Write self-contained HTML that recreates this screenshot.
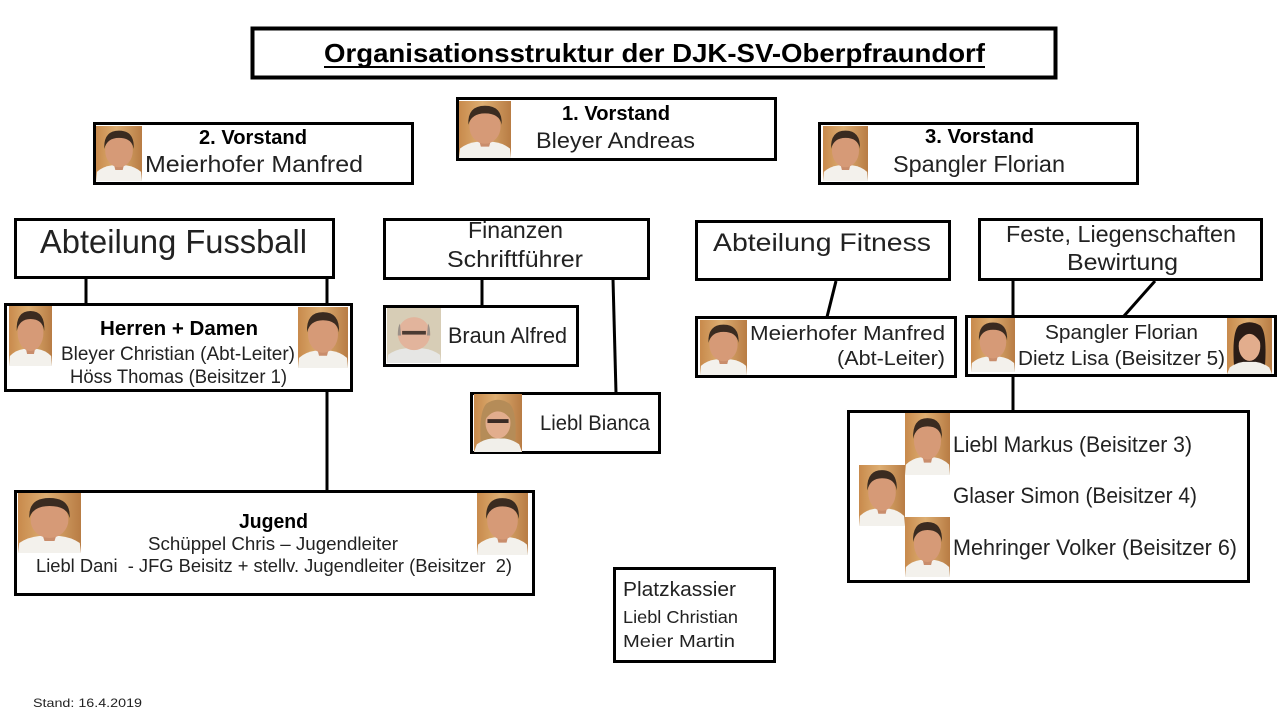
<!DOCTYPE html>
<html>
<head>
<meta charset="utf-8">
<style>
html,body{margin:0;padding:0;background:#fff;}
body{width:1280px;height:720px;overflow:hidden;}
svg{display:block;}
text{font-family:"Liberation Sans",sans-serif;fill:#222;white-space:pre;}
.b{font-weight:bold;fill:#000;}
</style>
</head>
<body>
<svg width="1280" height="720" viewBox="0 0 1280 720" xmlns="http://www.w3.org/2000/svg" xmlns:xlink="http://www.w3.org/1999/xlink">
<defs>
  <linearGradient id="wood" x1="0" y1="0" x2="1" y2="0">
    <stop offset="0" stop-color="#c88a4c"/>
    <stop offset="0.45" stop-color="#ddae72"/>
    <stop offset="1" stop-color="#b87c44"/>
  </linearGradient>
  <symbol id="pm" viewBox="0 0 50 60" preserveAspectRatio="none">
    <rect width="50" height="60" fill="url(#wood)"/>
    <path d="M0 60 L1 50 Q8 44 17 43 L33 43 Q42 44 49 50 L50 60Z" fill="#f3f1ec"/>
    <path d="M19 40 L31 40 L29 48 L21 48Z" fill="#c98d6c"/>
    <ellipse cx="25" cy="27" rx="15" ry="18" fill="#d69a77"/>
    <path d="M9 25 Q8 5 25 5 Q42 5 41 25 Q39 13 25 13 Q12 13 9 25Z" fill="#3a2b20"/>
  </symbol>
  <symbol id="pb" viewBox="0 0 50 60" preserveAspectRatio="none">
    <rect width="50" height="60" fill="#d7cdb6"/>
    <path d="M0 60 L1 51 Q8 45 17 44 L33 44 Q42 45 49 51 L50 60Z" fill="#e6e6e4"/>
    <ellipse cx="25" cy="28" rx="15" ry="18" fill="#e2b49c"/>
    <path d="M10 30 Q10 20 12 17 L13 30Z M40 30 Q40 20 38 17 L37 30Z" fill="#9a9088"/>
    <rect x="14" y="25" width="22" height="4" fill="#4a3a32"/>
  </symbol>
  <symbol id="pf" viewBox="0 0 50 60" preserveAspectRatio="none">
    <rect width="50" height="60" fill="url(#wood)"/>
    <path d="M7 50 Q5 18 13 10 Q25 2 37 10 Q45 18 43 50Z" fill="#b58c58"/>
    <path d="M0 60 L3 52 Q10 47 18 46 L32 46 Q40 47 47 52 L50 60Z" fill="#f1efea"/>
    <ellipse cx="25" cy="30" rx="13" ry="16" fill="#e2ad8d"/>
    <path d="M12 26 Q13 13 25 13 Q37 13 38 26 Q32 18 25 18 Q18 18 12 26Z" fill="#b58c58"/>
    <rect x="14" y="26" width="22" height="4" fill="#3a2a24"/>
  </symbol>
  <symbol id="pd" viewBox="0 0 50 60" preserveAspectRatio="none">
    <rect width="50" height="60" fill="url(#wood)"/>
    <path d="M8 54 Q5 16 13 8 Q25 1 37 8 Q45 16 42 54Z" fill="#2a1c16"/>
    <path d="M0 60 L3 53 Q10 48 18 47 L32 47 Q40 48 47 53 L50 60Z" fill="#f1efea"/>
    <ellipse cx="25" cy="30" rx="12" ry="16" fill="#e2ad8d"/>
    <path d="M13 26 Q14 12 25 12 Q36 12 37 26 Q31 17 25 17 Q19 17 13 26Z" fill="#2a1c16"/>
  </symbol>
</defs>

<!-- connectors -->
<g stroke="#000" stroke-width="3" fill="none">
  <line x1="86" y1="279" x2="86" y2="304"/>
  <line x1="327" y1="279" x2="327" y2="304"/>
  <line x1="327" y1="391" x2="327" y2="491"/>
  <line x1="482" y1="279" x2="482" y2="306"/>
  <line x1="613" y1="279" x2="616" y2="393"/>
  <line x1="836" y1="281" x2="827" y2="317"/>
  <line x1="1013" y1="281" x2="1013" y2="316"/>
  <line x1="1155" y1="281" x2="1124" y2="316"/>
  <line x1="1013" y1="377" x2="1013" y2="411"/>
</g>

<!-- boxes -->
<g fill="#fff" stroke="#000" stroke-width="3">
  <rect x="252.5" y="28.5" width="803" height="49" stroke-width="4"/>
  <rect x="457.5" y="98.5" width="318" height="61"/>
  <rect x="94.5" y="123.5" width="318" height="60"/>
  <rect x="819.5" y="123.5" width="318" height="60"/>
  <rect x="15.5" y="219.5" width="318" height="58"/>
  <rect x="5.5" y="304.5" width="346" height="86"/>
  <rect x="15.5" y="491.5" width="518" height="103"/>
  <rect x="384.5" y="219.5" width="264" height="59"/>
  <rect x="384.5" y="306.5" width="193" height="59"/>
  <rect x="471.5" y="393.5" width="188" height="59"/>
  <rect x="696.5" y="221.5" width="253" height="58"/>
  <rect x="696.5" y="317.5" width="259" height="59"/>
  <rect x="979.5" y="219.5" width="282" height="60"/>
  <rect x="966.5" y="316.5" width="309" height="59"/>
  <rect x="848.5" y="411.5" width="400" height="170"/>
  <rect x="614.5" y="568.5" width="160" height="93"/>
</g>

<!-- photos -->
<use xlink:href="#pm" href="#pm" x="459" y="101" width="52" height="57"/>
<use xlink:href="#pm" href="#pm" x="96" y="126" width="46" height="55"/>
<use xlink:href="#pm" href="#pm" x="823" y="126" width="45" height="55"/>
<use xlink:href="#pm" href="#pm" x="9" y="306" width="43" height="60"/>
<use xlink:href="#pm" href="#pm" x="298" y="307" width="50" height="61"/>
<use xlink:href="#pm" href="#pm" x="18" y="493" width="63" height="60"/>
<use xlink:href="#pm" href="#pm" x="477" y="493" width="51" height="62"/>
<use xlink:href="#pb" href="#pb" x="387" y="308" width="54" height="55"/>
<use xlink:href="#pf" href="#pf" x="474" y="394" width="48" height="58"/>
<use xlink:href="#pm" href="#pm" x="700" y="320" width="47" height="55"/>
<use xlink:href="#pm" href="#pm" x="971" y="318" width="44" height="54"/>
<use xlink:href="#pd" href="#pd" x="1227" y="318" width="45" height="56"/>
<use xlink:href="#pm" href="#pm" x="905" y="413" width="45" height="62"/>
<use xlink:href="#pm" href="#pm" x="859" y="465" width="46" height="61"/>
<use xlink:href="#pm" href="#pm" x="905" y="517" width="45" height="60"/>

<!-- texts -->
<text class="b" x="324" y="62" font-size="26" textLength="661" lengthAdjust="spacingAndGlyphs">Organisationsstruktur der DJK-SV-Oberpfraundorf</text>
<line x1="324" y1="67" x2="985" y2="67" stroke="#000" stroke-width="2"/>

<text class="b" x="562" y="120" font-size="20" textLength="108" lengthAdjust="spacingAndGlyphs">1. Vorstand</text>
<text x="536" y="148" font-size="22" textLength="159" lengthAdjust="spacingAndGlyphs">Bleyer Andreas</text>

<text class="b" x="199" y="144" font-size="20" textLength="108" lengthAdjust="spacingAndGlyphs">2. Vorstand</text>
<text x="145" y="172" font-size="23" textLength="218" lengthAdjust="spacingAndGlyphs">Meierhofer Manfred</text>

<text class="b" x="925" y="143" font-size="20" textLength="109" lengthAdjust="spacingAndGlyphs">3. Vorstand</text>
<text x="893" y="172" font-size="23" textLength="172" lengthAdjust="spacingAndGlyphs">Spangler Florian</text>

<text x="40" y="253" font-size="33" textLength="267" lengthAdjust="spacingAndGlyphs">Abteilung Fussball</text>

<text class="b" x="100" y="335" font-size="20" textLength="158" lengthAdjust="spacingAndGlyphs">Herren + Damen</text>
<text x="61" y="360" font-size="19" textLength="234" lengthAdjust="spacingAndGlyphs">Bleyer Christian (Abt-Leiter)</text>
<text x="70" y="383" font-size="19" textLength="217" lengthAdjust="spacingAndGlyphs">Höss Thomas (Beisitzer 1)</text>

<text class="b" x="239" y="528" font-size="20" textLength="69" lengthAdjust="spacingAndGlyphs">Jugend</text>
<text x="148" y="550" font-size="18" textLength="250" lengthAdjust="spacingAndGlyphs">Schüppel Chris – Jugendleiter</text>
<text x="36" y="572" font-size="18" textLength="476" lengthAdjust="spacingAndGlyphs">Liebl Dani  - JFG Beisitz + stellv. Jugendleiter (Beisitzer  2)</text>

<text x="468" y="238" font-size="23" textLength="95" lengthAdjust="spacingAndGlyphs">Finanzen</text>
<text x="447" y="267" font-size="23" textLength="136" lengthAdjust="spacingAndGlyphs">Schriftführer</text>
<text x="448" y="343" font-size="22" textLength="119" lengthAdjust="spacingAndGlyphs">Braun Alfred</text>
<text x="540" y="430" font-size="21.5" textLength="110" lengthAdjust="spacingAndGlyphs">Liebl Bianca</text>

<text x="713" y="251" font-size="25" textLength="218" lengthAdjust="spacingAndGlyphs">Abteilung Fitness</text>
<text x="750" y="340" font-size="20.5" textLength="195" lengthAdjust="spacingAndGlyphs">Meierhofer Manfred</text>
<text x="837" y="365" font-size="20.5" textLength="108" lengthAdjust="spacingAndGlyphs">(Abt-Leiter)</text>

<text x="1006" y="242" font-size="23" textLength="230" lengthAdjust="spacingAndGlyphs">Feste, Liegenschaften</text>
<text x="1067" y="270" font-size="23" textLength="111" lengthAdjust="spacingAndGlyphs">Bewirtung</text>
<text x="1045" y="339" font-size="20.5" textLength="153" lengthAdjust="spacingAndGlyphs">Spangler Florian</text>
<text x="1018" y="365" font-size="20.5" textLength="207" lengthAdjust="spacingAndGlyphs">Dietz Lisa (Beisitzer 5)</text>

<text x="953" y="452" font-size="22" textLength="239" lengthAdjust="spacingAndGlyphs">Liebl Markus (Beisitzer 3)</text>
<text x="953" y="503" font-size="22" textLength="244" lengthAdjust="spacingAndGlyphs">Glaser Simon (Beisitzer 4)</text>
<text x="953" y="555" font-size="22" textLength="284" lengthAdjust="spacingAndGlyphs">Mehringer Volker (Beisitzer 6)</text>

<text x="623" y="596" font-size="20" textLength="113" lengthAdjust="spacingAndGlyphs">Platzkassier</text>
<text x="623" y="623" font-size="17.5" textLength="115" lengthAdjust="spacingAndGlyphs">Liebl Christian</text>
<text x="623" y="647" font-size="17.5" textLength="112" lengthAdjust="spacingAndGlyphs">Meier Martin</text>

<text x="33" y="707" font-size="12" textLength="109" lengthAdjust="spacingAndGlyphs">Stand: 16.4.2019</text>
</svg>
</body>
</html>
